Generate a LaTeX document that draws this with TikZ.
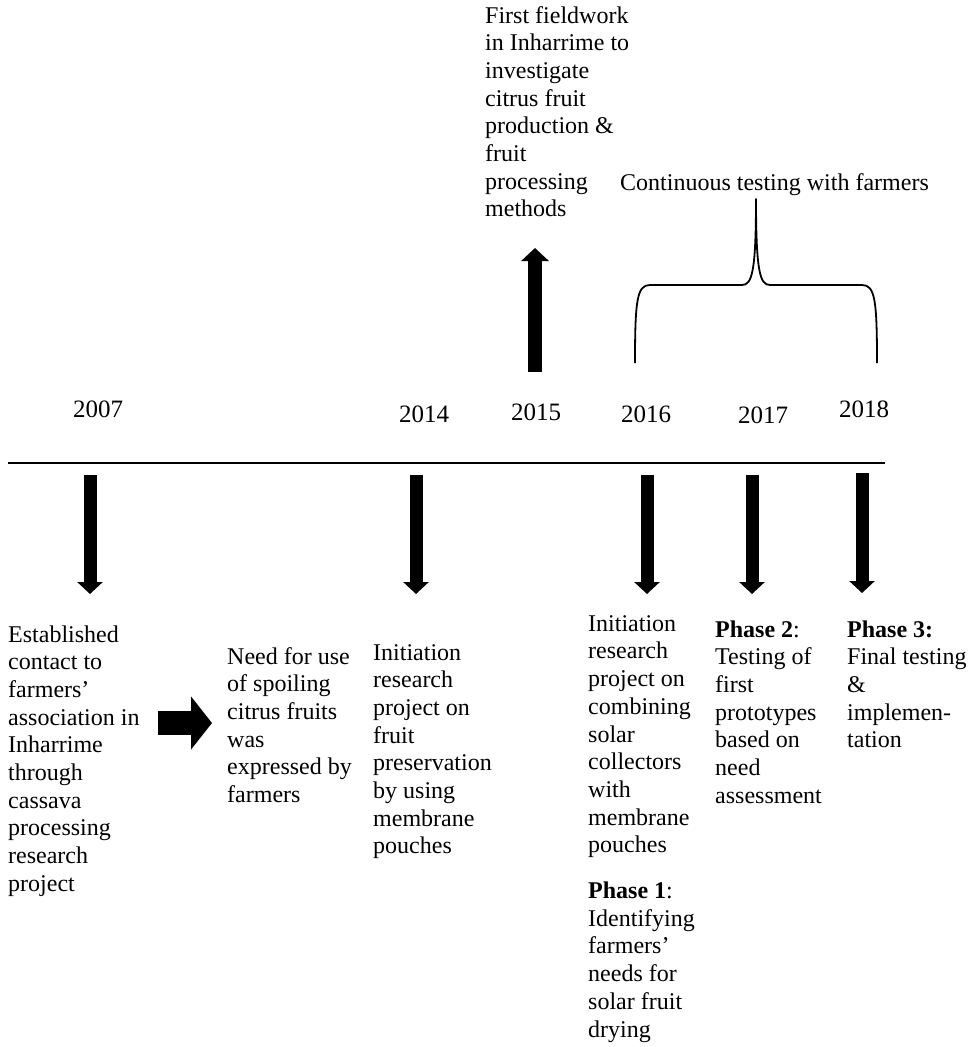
\documentclass[tikz,border=0pt]{standalone}
\usepackage{fontspec}
\setmainfont{Liberation Serif}
\usetikzlibrary{arrows.meta}
\begin{document}
\begin{tikzpicture}[x=1pt,y=-1pt,
  txt/.style={inner sep=0pt, anchor=base west, align=left, font=\fontsize{24}{27.7}\selectfont},
  yr/.style={inner sep=0pt, anchor=base, font=\fontsize{25}{30}\selectfont},
  bigarrow/.style={line width=13pt, -{Triangle[width=25pt,length=12pt]}},
  uparrow/.style={line width=14pt, -{Triangle[width=27pt,length=13pt]}},
  rarrow/.style={line width=24pt, -{Triangle[width=52pt,length=21pt]}},
  brace/.style={line width=1.8pt, line join=round}]
\path[use as bounding box, fill=white] (0,0) rectangle (971,1047);

% timeline
\coordinate (tl) at (8,463);
\coordinate (tr) at (885,463);
\draw[line width=2pt] (tl) -- (tr);

% years
\node[yr] (y2007) at (98,417) {2007};
\node[yr] (y2014) at (424,422) {2014};
\node[yr] (y2015) at (536,420) {2015};
\node[yr] (y2016) at (646,422) {2016};
\node[yr] (y2017) at (763,423) {2017};
\node[yr] (y2018) at (864,417) {2018};

% top text (anchor = baseline of last line)
\node[txt] (t2015) at (485,216.9) {First fieldwork\\in Inharrime to\\investigate\\citrus fruit\\production \&\\fruit\\processing\\methods};
\node[txt] (tcont) at (620,190) {Continuous testing with farmers};

% up arrow
\coordinate (ua0) at (535,372);
\coordinate (ua1) at (535,248);
\draw[uparrow] (ua0) -- (ua1);

% brace
\coordinate (bl) at (635,363);
\coordinate (bt) at (756,199);
\coordinate (br) at (877,363);
\draw[brace] (bl) .. controls (635,300) and (637,285) .. (650,285)
  -- (742,285) .. controls (752,285) and (756,272) .. (bt)
  .. controls (756,272) and (760,285) .. (770,285)
  -- (862,285) .. controls (875,285) and (877,300) .. (br);

% down arrows
\coordinate (d1a) at (90,475);  \coordinate (d1b) at (90,594);
\coordinate (d2a) at (416,475); \coordinate (d2b) at (416,594);
\coordinate (d3a) at (647,475); \coordinate (d3b) at (647,594);
\coordinate (d4a) at (752,475); \coordinate (d4b) at (752,594);
\coordinate (d5a) at (862,473); \coordinate (d5b) at (862,593);
\draw[bigarrow] (d1a) -- (d1b);
\draw[bigarrow] (d2a) -- (d2b);
\draw[bigarrow] (d3a) -- (d3b);
\draw[bigarrow] (d4a) -- (d4b);
\draw[bigarrow] (d5a) -- (d5b);

% bottom texts (anchor = baseline of last line)
\node[txt] (b1) at (8,891.3) {Established\\contact to\\farmers’\\association in\\Inharrime\\through\\cassava\\processing\\research\\project};
\node[txt] (b2) at (227,802.5) {Need for use\\of spoiling\\citrus fruits\\was\\expressed by\\farmers};
\node[txt] (b3) at (373,853.9) {Initiation\\research\\project on\\fruit\\preservation\\by using\\membrane\\pouches};
\node[txt] (b4) at (588,1037) {Initiation\\research\\project on\\combining\\solar\\collectors\\with\\membrane\\pouches\\[18pt]\textbf{Phase 1}:\\Identifying\\farmers’\\needs for\\solar fruit\\drying};
\node[txt] (b5) at (715,803.2) {\textbf{Phase 2}:\\Testing of\\first\\prototypes\\based on\\need\\assessment};
\node[txt] (b6) at (847,747.8) {\textbf{Phase 3:}\\Final testing\\\&\\implemen-\\tation};

% right arrow
\coordinate (ra0) at (158,723);
\coordinate (ra1) at (212,723);
\draw[rarrow] (ra0) -- (ra1);
\end{tikzpicture}
\end{document}
